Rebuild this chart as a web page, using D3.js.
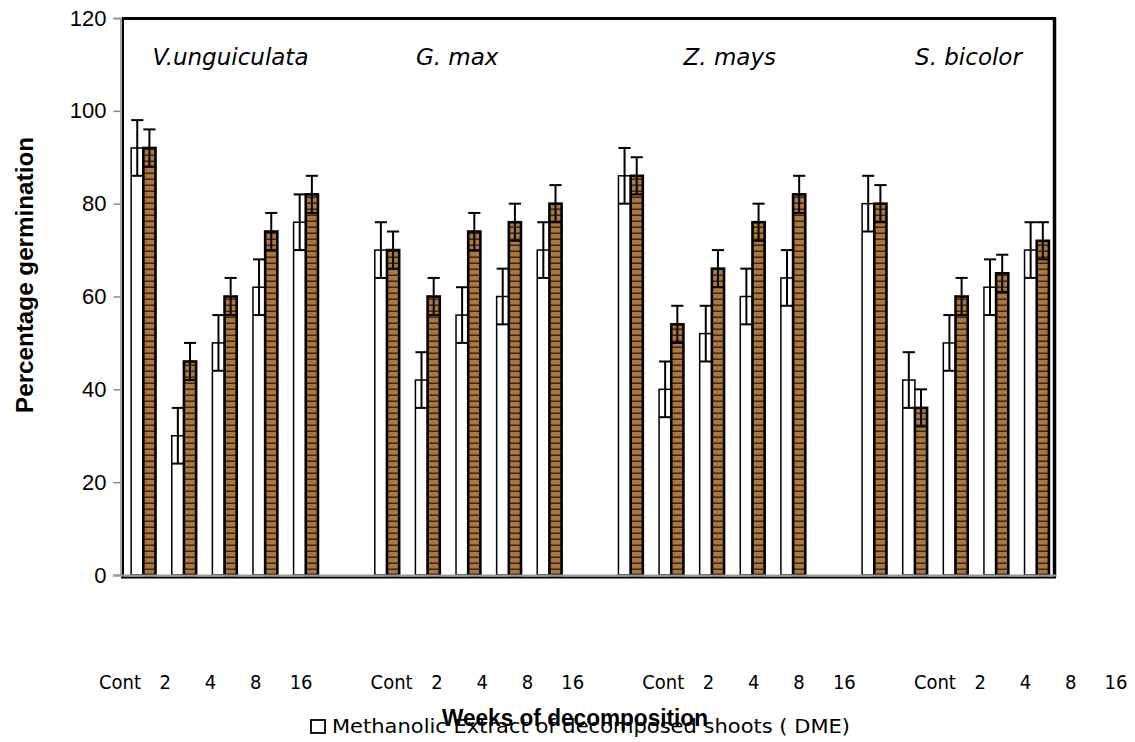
<!DOCTYPE html>
<html>
<head>
<meta charset="utf-8">
<title>Percentage germination</title>
<style>
  body { margin: 0; background: #fff; }
  svg { display: block; font-family: "Liberation Sans", Arial, sans-serif; }
</style>
</head>
<body>
<div id="chart"></div>
<script src="https://cdn.jsdelivr.net/npm/d3@7/dist/d3.min.js"></script>
<script>
(function(d3) {
  'use strict';

  var species = ['V.unguiculata', 'G. max', 'Z. mays', 'S. bicolor'];
  var weeks = ['Cont', '2', '4', '8', '16'];
  var yTicks = [0, 20, 40, 60, 80, 100, 120];

  // white bars: methanolic extract (DME), species by species, weeks in order
  var dme    = [92, 30, 50, 62, 76,  70, 42, 56, 60, 70,  86, 40, 52, 60, 64,  80, 42, 50, 62, 70];
  var dmeErr = [ 6,  6,  6,  6,  6,   6,  6,  6,  6,  6,   6,  6,  6,  6,  6,   6,  6,  6,  6,  6];
  // brown bars: second extract (no legend entry in the original)
  var other    = [92, 46, 60, 74, 82,  70, 60, 74, 76, 80,  86, 54, 66, 76, 82,  80, 36, 60, 65, 72];
  var otherErr = [ 4,  4,  4,  4,  4,   4,  4,  4,  4,  4,   4,  4,  4,  4,  4,   4,  4,  4,  4,  4];

  var legendLabel = 'Methanolic Extract of decomposed shoots ( DME)';
  var xTitle = 'Weeks of decomposition';
  var yTitle = 'Percentage germination';

  var width = 1135, height = 742;
  var left = 121, right = 1055, top = 18, bottom = 575;
  // species names are not quite centred over their groups in the original
  var nameShift = [8, -9, 20, 15];

  // 5 weeks per species with an empty slot between species
  var slots = [];
  species.forEach(function(s, i) {
    weeks.forEach(function(w) { slots.push(s + '|' + w); });
    if (i < species.length - 1) slots.push('gap' + i);
  });

  var rows = [];
  dme.forEach(function(v, i) {
    var slot = species[Math.floor(i / weeks.length)] + '|' + weeks[i % weeks.length];
    rows.push({ slot: slot, key: 'dme', value: v, err: dmeErr[i] });
    rows.push({ slot: slot, key: 'other', value: other[i], err: otherErr[i] });
  });

  var x0 = d3.scaleBand().domain(slots).range([left, right]);
  var x1 = d3.scaleBand().domain(['dme', 'other'])
      .range([x0.bandwidth() * 0.25, x0.bandwidth() * 0.85]);
  var y = d3.scaleLinear().domain([0, 120]).range([bottom, top]);
  // the week labels under the chart sit on their own spacing
  var xLab = d3.scalePoint().domain(slots).range([120, 1116]);

  var svg = d3.select('#chart').append('svg')
      .attr('width', width)
      .attr('height', height);

  var pat = svg.append('defs').append('pattern')
      .attr('id', 'brick')
      .attr('patternUnits', 'userSpaceOnUse')
      .attr('width', 8).attr('height', 6);
  pat.append('rect').attr('width', 8).attr('height', 6).attr('fill', '#ab773c');
  pat.append('rect').attr('y', 4.5).attr('width', 8).attr('height', 1.5).attr('fill', '#3b2412');

  // bars
  svg.append('g').selectAll('rect')
      .data(rows)
      .enter()
      .append('rect')
      .attr('x', function(d) { return x0(d.slot) + x1(d.key); })
      .attr('y', function(d) { return y(d.value); })
      .attr('width', x1.bandwidth())
      .attr('height', function(d) { return y(0) - y(d.value); })
      .attr('fill', function(d) { return d.key === 'dme' ? '#fff' : 'url(#brick)'; })
      .attr('stroke', '#000')
      .attr('stroke-width', function(d) { return d.key === 'dme' ? 1.5 : 2.6; });

  // error bars
  var err = svg.append('g')
      .attr('stroke', '#000')
      .attr('stroke-width', 2)
      .selectAll('g')
      .data(rows)
      .enter()
      .append('g')
      .attr('transform', function(d) {
        return 'translate(' + (x0(d.slot) + x1(d.key) + x1.bandwidth() / 2) + ',0)';
      });
  err.append('line')
      .attr('y1', function(d) { return y(d.value + d.err); })
      .attr('y2', function(d) { return y(d.value - d.err); });
  err.append('line')
      .attr('x1', -x1.bandwidth() / 2).attr('x2', x1.bandwidth() / 2)
      .attr('y1', function(d) { return y(d.value + d.err); })
      .attr('y2', function(d) { return y(d.value + d.err); });
  err.append('line')
      .attr('x1', -x1.bandwidth() / 2).attr('x2', x1.bandwidth() / 2)
      .attr('y1', function(d) { return y(d.value - d.err); })
      .attr('y2', function(d) { return y(d.value - d.err); });

  // frame: thick black top/right, thin black inner left/bottom
  var frame = svg.append('g').attr('stroke', '#000').attr('fill', 'none');
  frame.append('line').attr('x1', left + 1).attr('x2', right).attr('y1', top + 0.5).attr('y2', top + 0.5).attr('stroke-width', 3);
  frame.append('line').attr('x1', right - 0.5).attr('x2', right - 0.5).attr('y1', top - 1).attr('y2', bottom + 2).attr('stroke-width', 3.5);
  frame.append('line').attr('x1', left + 2).attr('x2', left + 2).attr('y1', top - 1).attr('y2', bottom + 2).attr('stroke-width', 2);
  frame.append('line').attr('x1', left).attr('x2', right + 1).attr('y1', bottom + 2.5).attr('y2', bottom + 2.5).attr('stroke-width', 2);

  // y axis (gray, like the original)
  var yAxis = svg.append('g')
      .attr('transform', 'translate(' + (left - 0.5) + ',0)')
      .call(d3.axisLeft(y).tickValues(yTicks).tickSize(7).tickPadding(7));
  yAxis.select('.domain').attr('stroke', '#8a8a8a').attr('stroke-width', 1.5);
  yAxis.selectAll('.tick line').attr('stroke', '#8a8a8a').attr('stroke-width', 1.5);
  yAxis.selectAll('.tick text')
      .style('font-family', '"Liberation Sans", Arial, sans-serif')
      .style('font-size', '22px')
      .attr('fill', '#000');

  svg.append('line')
      .attr('x1', left - 8).attr('x2', right + 1)
      .attr('y1', bottom + 0.5).attr('y2', bottom + 0.5)
      .attr('stroke', '#999').attr('stroke-width', 2);

  // species names
  svg.append('g').selectAll('text')
      .data(species)
      .enter()
      .append('text')
      .attr('x', function(s, i) {
        return (x0(s + '|' + weeks[0]) + x0(s + '|' + weeks[weeks.length - 1]) + x0.bandwidth()) / 2 + nameShift[i];
      })
      .attr('y', 65)
      .attr('text-anchor', 'middle')
      .style('font-family', '"DejaVu Sans", sans-serif')
      .style('font-style', 'italic')
      .style('font-size', '23px')
      .text(function(s) { return s; });

  // week labels row
  svg.append('g').selectAll('text')
      .data(rows.filter(function(d) { return d.key === 'dme'; }))
      .enter()
      .append('text')
      .attr('x', function(d) { return xLab(d.slot); })
      .attr('y', 689)
      .attr('text-anchor', 'middle')
      .style('font-family', '"Liberation Sans Narrow", "DejaVu Sans Condensed", sans-serif')
      .style('font-size', '20px')
      .text(function(d) { return d.slot.split('|')[1]; });

  // legend
  svg.append('rect')
      .attr('x', 311).attr('y', 720)
      .attr('width', 14).attr('height', 13)
      .attr('fill', '#fff').attr('stroke', '#000').attr('stroke-width', 1.8);
  svg.append('text')
      .attr('x', 332).attr('y', 733)
      .attr('textLength', 518)
      .attr('lengthAdjust', 'spacingAndGlyphs')
      .style('font-family', '"DejaVu Sans", sans-serif')
      .style('font-size', '20px')
      .text(legendLabel);

  // axis titles (they overlap the legend in the original too)
  svg.append('text')
      .attr('x', 575).attr('y', 726)
      .attr('text-anchor', 'middle')
      .attr('textLength', 266)
      .attr('lengthAdjust', 'spacingAndGlyphs')
      .style('font-weight', 'bold')
      .style('font-size', '23px')
      .text(xTitle);

  svg.append('text')
      .attr('transform', 'translate(33,275) rotate(-90)')
      .attr('text-anchor', 'middle')
      .attr('textLength', 276)
      .attr('lengthAdjust', 'spacingAndGlyphs')
      .style('font-weight', 'bold')
      .style('font-size', '23px')
      .text(yTitle);

})(window.d3);
</script>
</body>
</html>
